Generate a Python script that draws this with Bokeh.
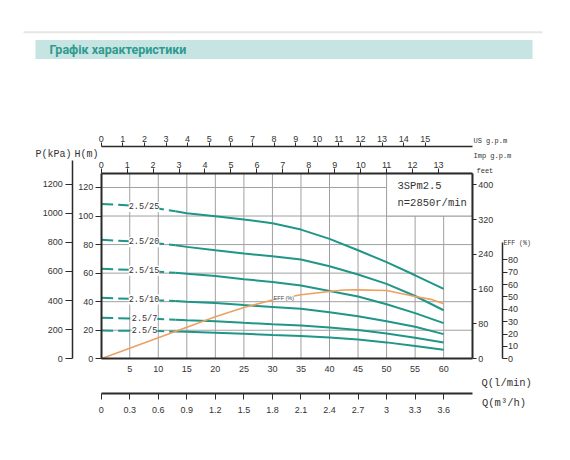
import numpy as np
from bokeh.plotting import figure
from bokeh.models import (Range1d, LinearAxis, FixedTicker, Label, LabelSet, ColumnDataSource)
from bokeh.embed import file_html
from bokeh.resources import INLINE
from bokeh.core.properties import value

# ---------------- data ----------------
flow_lpm = [0, 5, 10, 13, 15, 20, 25, 30, 35, 40, 45, 50, 55, 60]
head_2_5_25 = [108.5, 107.4, 105.2, 103.3, 102.0, 99.8, 97.5, 95.0, 90.5, 84.0, 76.0, 67.7, 58.5, 49.0]
head_2_5_20 = [83.3, 82.4, 80.8, 79.5, 78.4, 76.0, 73.8, 71.8, 69.5, 64.8, 59.0, 52.5, 44.0, 34.0]
head_2_5_15 = [63.0, 62.3, 61.0, 60.2, 59.6, 58.0, 55.8, 53.8, 51.3, 47.5, 43.6, 38.2, 32.0, 25.0]
head_2_5_10 = [42.7, 42.0, 41.0, 40.5, 40.0, 39.0, 37.6, 36.3, 35.0, 32.6, 29.8, 26.3, 22.4, 17.3]
head_2_5_7 = [28.7, 28.3, 27.9, 27.4, 27.0, 26.3, 25.2, 24.2, 23.3, 22.0, 20.2, 17.7, 14.8, 11.4]
head_2_5_5 = [19.8, 19.6, 19.4, 19.1, 18.9, 18.2, 17.5, 16.7, 16.0, 15.0, 13.5, 11.5, 9.0, 6.3]
model_names = ["2.5/25", "2.5/20", "2.5/15", "2.5/10", "2.5/7", "2.5/5"]
heads = [head_2_5_25, head_2_5_20, head_2_5_15, head_2_5_10, head_2_5_7, head_2_5_5]

eff_flow = [0, 5, 10, 15, 20, 25, 30, 35, 40, 42.5, 45, 50, 55, 58, 60]
eff_pct = [0, 8.5, 17, 25.5, 34, 41.5, 47.5, 51.7, 54.4, 55.6, 55.7, 55.2, 50.3, 47.8, 44.4]

q_ticks = [5, 10, 15, 20, 25, 30, 35, 40, 45, 50, 55, 60]
h_ticks = [0, 20, 40, 60, 80, 100, 120]
kpa_ticks = [0, 200, 400, 600, 800, 1000, 1200]
feet_ticks = [0, 80, 160, 240, 320, 400]
eff_ticks = [0, 10, 20, 30, 40, 50, 60, 70, 80]
usgpm_ticks = list(range(0, 16))
impgpm_ticks = list(range(0, 14))
m3h_ticks = [0, 0.3, 0.6, 0.9, 1.2, 1.5, 1.8, 2.1, 2.4, 2.7, 3, 3.3, 3.6]
m3h_labels = ["0", "0.3", "0.6", "0.9", "1.2", "1.5", "1.8", "2.1", "2.4", "2.7", "3", "3.3", "3.6"]

title_text = "Графік характеристики"
pump_model = "3SPm2.5"
pump_speed = "n=2850r/min"

# unit conversions
L_PER_USG = 3.785
L_PER_IMPG = 4.546
M3H_PER_LPM = 0.06
FT_PER_M = 3.281
KPA_PER_M = 9.81
EFF_PER_M = 150 / 130

# ---------------- layout (window pixels) ----------------
W, H = 568, 456
PX_L, PX_R, PY_T, PY_B = 100.7, 471.7, 172.7, 358.3
Q_MAX, H_MAX = 65, 130
sx = (PX_R - PX_L) / Q_MAX
sy = (PY_B - PY_T) / H_MAX


def q_at(px):
    return (px - PX_L) / sx


def h_at(py):
    return (PY_B - py) / sy


TEAL = "#1f9688"
ORANGE = "#eda05f"
GRID = "#a0a0a0"
INK = "#2a2a2a"
FONT = "Liberation Sans"
MONO = "Liberation Mono"

x0, x1 = q_at(0), q_at(W)
y0, y1 = h_at(H), h_at(0)
p = figure(width=W, height=H, x_range=Range1d(x0, x1), y_range=Range1d(y0, y1),
           output_backend="svg", toolbar_location=None, x_axis_type=None, y_axis_type=None,
           min_border=0, outline_line_color=None)
p.extra_x_ranges = {"imp": Range1d(x0 / L_PER_IMPG, x1 / L_PER_IMPG),
                    "usg": Range1d(x0 / L_PER_USG, x1 / L_PER_USG),
                    "m3h": Range1d(x0 * M3H_PER_LPM, x1 * M3H_PER_LPM),
                    "px": Range1d(0, W)}
p.extra_y_ranges = {"kpa": Range1d(y0 * KPA_PER_M, y1 * KPA_PER_M),
                    "feet": Range1d(y0 * FT_PER_M, y1 * FT_PER_M),
                    "eff": Range1d(y0 * EFF_PER_M, y1 * EFF_PER_M),
                    "py": Range1d(H, 0)}

# ---------------- title strip ----------------
p.segment(x0=[23], y0=[31.7], x1=[542], y1=[31.7], x_range_name="px", y_range_name="py",
          line_color="#e6e6e6", line_width=2)
p.quad(left=[35], right=[532], top=[39.5], bottom=[58.5], x_range_name="px", y_range_name="py",
       fill_color="#c6e4e2", line_color=None)
p.add_layout(Label(x=49, y=49, x_range_name="px", y_range_name="py", text=title_text,
                   text_font="Roboto", text_font_style="bold", text_font_size="12.5px",
                   text_color="#2f9a8f", text_baseline="middle"))

# ---------------- grid ----------------
p.segment(x0=q_ticks, y0=[0] * len(q_ticks), x1=q_ticks, y1=[H_MAX] * len(q_ticks),
          line_color=GRID, line_width=1)
p.segment(x0=[0] * (len(h_ticks) - 1), y0=h_ticks[1:], x1=[Q_MAX] * (len(h_ticks) - 1), y1=h_ticks[1:],
          line_color=GRID, line_width=1)
# white box for model name
p.quad(left=[50], right=[Q_MAX], bottom=[100], top=[H_MAX], fill_color="white",
       line_color=GRID, line_width=1)


def style(ax, size="9px"):
    ax.major_label_text_font = FONT
    ax.major_label_text_font_size = size
    ax.major_label_text_color = "#333333"
    ax.axis_line_color = INK
    ax.major_tick_line_color = INK
    ax.minor_tick_line_color = None
    ax.major_tick_in = 0
    return ax


# left axes
p.add_layout(style(LinearAxis(ticker=FixedTicker(ticks=h_ticks), fixed_location=0, bounds=(0, H_MAX),
                              axis_line_width=2, major_tick_out=6, major_label_standoff=2)), "left")
p.add_layout(style(LinearAxis(y_range_name="kpa", ticker=FixedTicker(ticks=kpa_ticks),
                              fixed_location=q_at(72.3), bounds=(0, h_at(160) * KPA_PER_M),
                              axis_line_width=1.5, major_tick_out=7, major_label_standoff=3)), "left")
# right axes
p.add_layout(style(LinearAxis(y_range_name="feet", ticker=FixedTicker(ticks=feet_ticks),
                              fixed_location=Q_MAX, bounds=(0, H_MAX * FT_PER_M),
                              axis_line_width=2, major_tick_out=4, major_label_standoff=2)), "right")
p.add_layout(style(LinearAxis(y_range_name="eff", ticker=FixedTicker(ticks=eff_ticks),
                              fixed_location=q_at(501.5), bounds=(0, 94),
                              axis_line_width=1.5, major_tick_out=5, major_label_standoff=1)), "right")
# top axes
p.add_layout(style(LinearAxis(x_range_name="imp", ticker=FixedTicker(ticks=impgpm_ticks),
                              fixed_location=H_MAX, bounds=(0, Q_MAX / L_PER_IMPG),
                              axis_line_width=2, major_tick_out=5, major_label_standoff=0)), "above")
p.add_layout(style(LinearAxis(x_range_name="usg", ticker=FixedTicker(ticks=usgpm_ticks),
                              fixed_location=h_at(146.2), bounds=(0, Q_MAX / L_PER_USG),
                              axis_line_width=1.5, major_tick_out=4, major_label_standoff=1)), "above")
# bottom axes
p.add_layout(style(LinearAxis(ticker=FixedTicker(ticks=q_ticks), fixed_location=0, bounds=(0, Q_MAX),
                              axis_line_width=2, major_tick_out=0, major_label_standoff=7)), "below")
p.add_layout(style(LinearAxis(x_range_name="m3h", ticker=FixedTicker(ticks=m3h_ticks),
                              fixed_location=h_at(392.7), bounds=(0, Q_MAX * M3H_PER_LPM),
                              axis_line_width=2, major_tick_out=6, major_label_standoff=8,
                              major_label_overrides={k: v for k, v in zip(m3h_ticks, m3h_labels)})), "below")

# head curves: dashed start, solid rest
split = flow_lpm.index(13)
for h in heads:
    p.line(flow_lpm[:split + 1], h[:split + 1], line_color=TEAL, line_width=2, line_dash="12 5")
    p.line(flow_lpm[split:], h[split:], line_color=TEAL, line_width=2)

# efficiency curve
p.line(eff_flow, eff_pct, y_range_name="eff", line_color=ORANGE, line_width=1.6)

# curve labels
lab_q = [7.5, 7.5, 7.5, 7.5, 7.6, 7.6]
lab_h = [float(np.interp(q, flow_lpm, h)) for q, h in zip(lab_q, heads)]
src = ColumnDataSource(dict(x=lab_q, y=lab_h, text=model_names))
p.add_layout(LabelSet(x="x", y="y", text="text", source=src, text_font=value(MONO),
                      text_font_size="8.5px", text_color="#333333", text_align="center",
                      text_baseline="middle", background_fill_color="white"))
p.add_layout(Label(x=32, y=float(np.interp(32, eff_flow, eff_pct)), y_range_name="eff", text="EFF (%)",
                   text_font=FONT, text_font_size="5.5px", text_color="#444444", text_align="center",
                   text_baseline="middle", background_fill_color="white"))


def px_label(x, y, text, size, align="left", font=MONO):
    p.add_layout(Label(x=x, y=y, x_range_name="px", y_range_name="py", text=text, text_font=font,
                       text_font_size=size, text_color="#333333", text_align=align,
                       text_baseline="middle"))


# model box text
px_label(397, 185.7, pump_model, "10.5px")
px_label(397, 202, pump_speed, "10.5px")
# axis titles
px_label(35, 153.5, "P(kPa)", "10px")
px_label(74, 153.5, "H(m)", "10px")
px_label(473, 140, "US g.p.m", "7px")
px_label(473, 155, "Imp g.p.m", "7px")
px_label(476, 170, "feet", "7px")
px_label(503, 242.7, "EFF (%)", "6.5px")
px_label(481, 382.7, "Q(l/min)", "10.5px")
px_label(481.5, 402.7, "Q(m³/h)", "10.5px")

open("out.html", "w").write(file_html(p, INLINE))
